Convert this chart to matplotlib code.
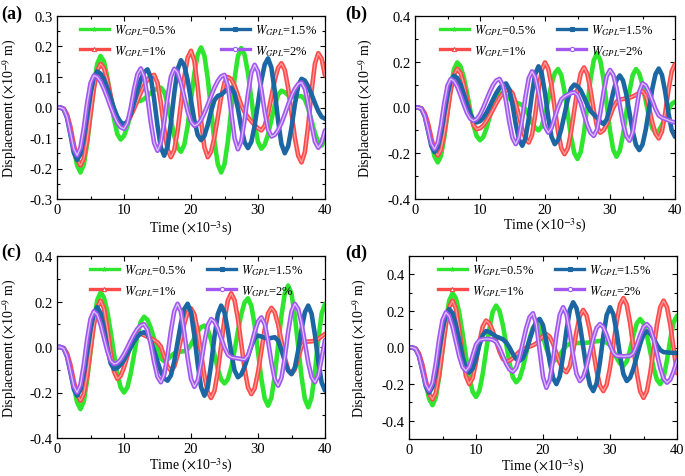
import numpy as np
import matplotlib
matplotlib.use("Agg")
import matplotlib.pyplot as plt
from matplotlib.lines import Line2D
from matplotlib.ticker import MultipleLocator, FormatStrFormatter

plt.rcParams['font.family'] = ['Liberation Serif', 'DejaVu Serif']
plt.rcParams['mathtext.fontset'] = 'stix'
plt.rcParams['axes.unicode_minus'] = False

# sampling instants (x10^-3 s)
time_ms = np.arange(0, 40.5, 0.5)

labels = [r'$W_{GPL}$=0.5%', r'$W_{GPL}$=1%', r'$W_{GPL}$=1.5%', r'$W_{GPL}$=2%']
colors = ['#2ee62e', '#ff4a4a', '#1c67a3', '#a257f0']
inner = [None, '#ff9c9c', None, '#dcc4fb']
markers = ['*', '^', 's', 'o']

# ---- (a) ----
a_green = [0, 0, -0.004, -0.026, -0.070, -0.134, -0.190, -0.213, -0.187, -0.118,
           -0.022, 0.073, 0.143, 0.169, 0.151, 0.100, 0.032, -0.037, -0.087, -0.105,
           -0.093, -0.062, -0.023, 0.008, 0.020, 0.022, 0.028, 0.038, 0.048, 0.057,
           0.063, 0.065, 0.051, 0.013, -0.040, -0.093, -0.131, -0.145, -0.122, -0.060,
           0.026, 0.112, 0.174, 0.197, 0.170, 0.095, -0.008, -0.111, -0.186, -0.213,
           -0.186, -0.111, -0.009, 0.093, 0.168, 0.195, 0.173, 0.113, 0.030, -0.053,
           -0.113, -0.135, -0.122, -0.088, -0.040, 0.008, 0.042, 0.055, 0.050, 0.040,
           0.035, 0.036, 0.037, 0.037, 0.026, -0.004, -0.044, -0.085, -0.114, -0.125,
           -0.105]
a_red = [0, 0, -0.004, -0.023, -0.063, -0.120, -0.169, -0.190, -0.168, -0.107,
         -0.024, 0.060, 0.121, 0.143, 0.129, 0.092, 0.040, -0.012, -0.049, -0.063,
         -0.059, -0.047, -0.028, -0.004, 0.022, 0.048, 0.072, 0.091, 0.103, 0.107,
         0.081, 0.014, -0.070, -0.137, -0.163, -0.140, -0.076, 0.012, 0.099, 0.163,
         0.186, 0.153, 0.066, -0.043, -0.130, -0.163, -0.145, -0.097, -0.032, 0.034,
         0.082, 0.100, 0.093, 0.072, 0.040, 0.008, -0.015, -0.032, -0.045, -0.058,
         -0.068, -0.075, -0.060, -0.020, 0.035, 0.090, 0.130, 0.145, 0.123, 0.064,
         -0.018, -0.099, -0.158, -0.180, -0.146, -0.057, 0.055, 0.144, 0.178, 0.160,
         0.105]
a_blue = [0, 0, -0.006, -0.034, -0.089, -0.148, -0.172, -0.153, -0.100, -0.027,
          0.046, 0.099, 0.118, 0.111, 0.093, 0.065, 0.032, -0.002, -0.030, -0.048,
          -0.055, -0.046, -0.021, 0.015, 0.055, 0.091, 0.116, 0.125, 0.098, 0.027,
          -0.060, -0.131, -0.158, -0.128, -0.050, 0.047, 0.125, 0.155, 0.138, 0.090,
          0.024, -0.042, -0.090, -0.107, -0.093, -0.057, -0.012, 0.024, 0.038, 0.042,
          0.052, 0.061, 0.065, 0.046, -0.003, -0.065, -0.114, -0.133, -0.113, -0.060,
          0.014, 0.088, 0.141, 0.161, 0.131, 0.054, -0.043, -0.120, -0.150, -0.127,
          -0.066, 0.010, 0.071, 0.094, 0.088, 0.069, 0.043, 0.014, -0.012, -0.031,
          -0.037]
a_purple = [0, 0, -0.005, -0.031, -0.082, -0.135, -0.157, -0.132, -0.067, 0.015,
            0.080, 0.105, 0.100, 0.085, 0.061, 0.033, 0.002, -0.026, -0.050, -0.065,
            -0.070, -0.051, -0.002, 0.060, 0.109, 0.128, 0.102, 0.035, -0.049, -0.116,
            -0.142, -0.116, -0.049, 0.034, 0.101, 0.127, 0.115, 0.080, 0.034, -0.013,
            -0.047, -0.060, -0.055, -0.041, -0.018, 0.009, 0.038, 0.065, 0.087, 0.102,
            0.107, 0.071, -0.015, -0.101, -0.137, -0.111, -0.041, 0.044, 0.114, 0.140,
            0.118, 0.059, -0.014, -0.073, -0.095, -0.090, -0.074, -0.051, -0.022, 0.009,
            0.038, 0.061, 0.077, 0.082, 0.062, 0.008, -0.058, -0.112, -0.132, -0.115,
            -0.075]

# ---- (b) ----
b_green = [0, 0, -0.005, -0.029, -0.079, -0.151, -0.214, -0.240, -0.211, -0.131,
           -0.022, 0.088, 0.168, 0.197, 0.180, 0.133, 0.065, -0.011, -0.079, -0.126,
           -0.143, -0.129, -0.091, -0.039, 0.013, 0.051, 0.065, 0.062, 0.052, 0.040,
           0.030, 0.022, 0.017, 0.010, -0.008, -0.035, -0.066, -0.090, -0.100, -0.082,
           -0.033, 0.034, 0.101, 0.150, 0.168, 0.142, 0.070, -0.029, -0.127, -0.199,
           -0.225, -0.194, -0.110, 0.006, 0.122, 0.206, 0.237, 0.207, 0.124, 0.011,
           -0.102, -0.185, -0.215, -0.189, -0.119, -0.024, 0.072, 0.142, 0.168, 0.149,
           0.099, 0.029, -0.041, -0.091, -0.110, -0.101, -0.076, -0.043, -0.009, 0.016,
           0.025]
b_red = [0, 0, -0.004, -0.025, -0.069, -0.132, -0.187, -0.210, -0.185, -0.115,
         -0.021, 0.074, 0.144, 0.169, 0.151, 0.103, 0.037, -0.029, -0.077, -0.095,
         -0.091, -0.079, -0.059, -0.035, -0.009, 0.018, 0.042, 0.062, 0.074, 0.078,
         0.063, 0.020, -0.038, -0.095, -0.138, -0.153, -0.120, -0.032, 0.076, 0.164,
         0.197, 0.170, 0.097, -0.004, -0.104, -0.177, -0.204, -0.179, -0.109, -0.014,
         0.080, 0.150, 0.175, 0.148, 0.077, -0.012, -0.083, -0.110, -0.100, -0.074,
         -0.038, -0.001, 0.025, 0.035, 0.037, 0.040, 0.043, 0.048, 0.055, 0.065,
         0.072, 0.052, 0.001, -0.064, -0.115, -0.135, -0.104, -0.023, 0.078, 0.159,
         0.190]
b_blue = [0, 0, -0.007, -0.039, -0.101, -0.168, -0.195, -0.173, -0.112, -0.028,
          0.055, 0.117, 0.139, 0.129, 0.101, 0.060, 0.014, -0.027, -0.055, -0.065,
          -0.060, -0.045, -0.023, 0.005, 0.035, 0.063, 0.085, 0.100, 0.105, 0.079,
          0.011, -0.073, -0.141, -0.167, -0.134, -0.047, 0.060, 0.147, 0.180, 0.148,
          0.063, -0.043, -0.128, -0.160, -0.143, -0.095, -0.030, 0.035, 0.083, 0.100,
          0.093, 0.075, 0.045, 0.012, -0.015, -0.030, -0.045, -0.062, -0.072, -0.052,
          0.001, 0.067, 0.120, 0.140, 0.118, 0.059, -0.023, -0.105, -0.164, -0.186,
          -0.162, -0.097, -0.008, 0.081, 0.146, 0.170, 0.142, 0.067, -0.025, -0.100,
          -0.128]
b_purple = [0, 0, -0.006, -0.036, -0.095, -0.157, -0.182, -0.153, -0.076, 0.019,
            0.096, 0.125, 0.116, 0.091, 0.054, 0.013, -0.024, -0.049, -0.058, -0.051,
            -0.031, -0.001, 0.034, 0.068, 0.098, 0.118, 0.125, 0.098, 0.027, -0.062,
            -0.133, -0.160, -0.130, -0.050, 0.048, 0.128, 0.158, 0.132, 0.066, -0.018,
            -0.085, -0.110, -0.090, -0.045, 0.000, 0.035, 0.048, 0.056, 0.063, 0.066,
            0.053, 0.019, -0.029, -0.077, -0.111, -0.124, -0.097, -0.025, 0.065, 0.137,
            0.164, 0.143, 0.087, 0.010, -0.068, -0.124, -0.145, -0.108, -0.020, 0.069,
            0.106, 0.096, 0.068, 0.031, -0.007, -0.035, -0.045, -0.050, -0.056, -0.062,
            -0.065]

# ---- (c) ----
c_green = [0, 0, -0.005, -0.033, -0.090, -0.172, -0.243, -0.273, -0.239, -0.145,
           -0.017, 0.112, 0.206, 0.240, 0.218, 0.157, 0.069, -0.029, -0.117, -0.178,
           -0.200, -0.178, -0.117, -0.034, 0.050, 0.111, 0.133, 0.120, 0.084, 0.035,
           -0.014, -0.050, -0.063, -0.055, -0.040, -0.028, -0.022, -0.020, -0.018, -0.010,
           0.010, 0.040, 0.068, 0.087, 0.094, 0.077, 0.031, -0.033, -0.097, -0.143,
           -0.160, -0.142, -0.090, -0.015, 0.069, 0.144, 0.196, 0.214, 0.182, 0.096,
           -0.022, -0.140, -0.226, -0.258, -0.223, -0.126, 0.006, 0.138, 0.235, 0.270,
           0.234, 0.136, 0.003, -0.131, -0.229, -0.265, -0.222, -0.108, 0.033, 0.147,
           0.190]
c_red = [0, 0, -0.005, -0.028, -0.078, -0.149, -0.210, -0.236, -0.207, -0.126,
         -0.016, 0.094, 0.175, 0.204, 0.171, 0.085, -0.021, -0.107, -0.140, -0.127,
         -0.090, -0.040, 0.010, 0.047, 0.060, 0.058, 0.052, 0.045, 0.038, 0.030,
         0.020, 0.002, -0.042, -0.086, -0.104, -0.086, -0.036, 0.033, 0.102, 0.152,
         0.170, 0.144, 0.072, -0.027, -0.126, -0.198, -0.224, -0.193, -0.109, 0.006,
         0.121, 0.205, 0.236, 0.206, 0.125, 0.015, -0.096, -0.177, -0.207, -0.182,
         -0.112, -0.018, 0.077, 0.147, 0.172, 0.153, 0.099, 0.027, -0.046, -0.100,
         -0.119, -0.098, -0.048, 0.001, 0.022, 0.024, 0.025, 0.028, 0.035, 0.047,
         0.057]
c_blue = [0, 0, -0.007, -0.043, -0.111, -0.184, -0.214, -0.188, -0.117, -0.020,
          0.078, 0.149, 0.175, 0.149, 0.081, -0.003, -0.071, -0.097, -0.092, -0.078,
          -0.057, -0.030, -0.002, 0.025, 0.046, 0.060, 0.065, 0.055, 0.025, -0.018,
          -0.065, -0.108, -0.138, -0.148, -0.125, -0.064, 0.021, 0.106, 0.167, 0.190,
          0.152, 0.051, -0.075, -0.176, -0.214, -0.176, -0.077, 0.045, 0.144, 0.182,
          0.152, 0.073, -0.024, -0.103, -0.133, -0.121, -0.087, -0.042, 0.004, 0.038,
          0.050, 0.046, 0.040, 0.037, 0.040, 0.043, 0.028, -0.013, -0.063, -0.104,
          -0.119, -0.090, -0.015, 0.078, 0.153, 0.182, 0.146, 0.053, -0.063, -0.156,
          -0.192]
c_purple = [0, 0, -0.007, -0.040, -0.104, -0.172, -0.200, -0.166, -0.077, 0.034,
            0.123, 0.157, 0.142, 0.099, 0.041, -0.017, -0.060, -0.075, -0.070, -0.055,
            -0.031, -0.003, 0.028, 0.056, 0.080, 0.095, 0.100, 0.076, 0.012, -0.067,
            -0.131, -0.155, -0.122, -0.036, 0.071, 0.157, 0.190, 0.155, 0.064, -0.049,
            -0.140, -0.175, -0.147, -0.072, 0.020, 0.095, 0.123, 0.112, 0.081, 0.039,
            -0.003, -0.034, -0.045, -0.048, -0.050, -0.053, -0.055, -0.037, 0.009, 0.066,
            0.112, 0.130, 0.101, 0.027, -0.067, -0.142, -0.170, -0.136, -0.046, 0.066,
            0.156, 0.190, 0.167, 0.104, 0.018, -0.069, -0.132, -0.155, -0.125, -0.050,
            0.030]

# ---- (d) ----
d_green = [0, 0, -0.006, -0.038, -0.104, -0.198, -0.280, -0.315, -0.274, -0.162,
           -0.009, 0.144, 0.256, 0.297, 0.269, 0.190, 0.076, -0.049, -0.163, -0.242,
           -0.270, -0.237, -0.145, -0.021, 0.104, 0.196, 0.229, 0.201, 0.124, 0.020,
           -0.085, -0.162, -0.190, -0.169, -0.110, -0.030, 0.050, 0.109, 0.130, 0.111,
           0.059, -0.004, -0.056, -0.075, -0.066, -0.042, -0.013, 0.011, 0.020, 0.022,
           0.024, 0.025, 0.025, 0.026, 0.028, 0.031, 0.034, 0.036, 0.035, 0.026,
           0.014, -0.017, -0.057, -0.088, -0.100, -0.076, -0.012, 0.068, 0.132, 0.156,
           0.132, 0.067, -0.022, -0.111, -0.176, -0.200, -0.165, -0.071, 0.045, 0.139,
           0.174]
d_red = [0, 0, -0.006, -0.034, -0.094, -0.179, -0.253, -0.284, -0.248, -0.149,
         -0.014, 0.121, 0.220, 0.256, 0.213, 0.099, -0.043, -0.157, -0.200, -0.167,
         -0.080, 0.027, 0.114, 0.147, 0.132, 0.091, 0.035, -0.021, -0.062, -0.077,
         -0.072, -0.058, -0.040, -0.022, -0.010, -0.002, 0.005, 0.012, 0.022, 0.042,
         0.063, 0.073, 0.059, 0.021, -0.031, -0.083, -0.121, -0.135, -0.103, -0.018,
         0.088, 0.173, 0.205, 0.175, 0.094, -0.017, -0.127, -0.208, -0.238, -0.204,
         -0.111, 0.016, 0.143, 0.236, 0.270, 0.234, 0.134, -0.003, -0.139, -0.239,
         -0.275, -0.239, -0.142, -0.010, 0.123, 0.220, 0.256, 0.221, 0.125, -0.007,
         -0.140]
d_blue = [0, 0, -0.009, -0.049, -0.128, -0.212, -0.247, -0.216, -0.133, -0.018,
          0.096, 0.179, 0.210, 0.187, 0.123, 0.037, -0.050, -0.114, -0.137, -0.115,
          -0.059, 0.012, 0.068, 0.090, 0.085, 0.072, 0.060, 0.053, 0.045, 0.028,
          0.000, -0.035, -0.063, -0.073, -0.058, -0.016, 0.042, 0.099, 0.141, 0.156,
          0.122, 0.033, -0.077, -0.166, -0.200, -0.158, -0.046, 0.093, 0.205, 0.247,
          0.215, 0.126, 0.005, -0.117, -0.206, -0.238, -0.195, -0.080, 0.062, 0.177,
          0.220, 0.182, 0.081, -0.044, -0.145, -0.183, -0.165, -0.115, -0.048, 0.020,
          0.070, 0.088, 0.077, 0.049, 0.014, -0.014, -0.025, -0.027, -0.028, -0.030,
          -0.030]
d_purple = [0, 0, -0.008, -0.047, -0.122, -0.202, -0.235, -0.194, -0.088, 0.045,
            0.151, 0.192, 0.171, 0.112, 0.032, -0.048, -0.107, -0.128, -0.104, -0.044,
            0.016, 0.040, 0.045, 0.047, 0.046, 0.042, 0.030, -0.002, -0.045, -0.089,
            -0.120, -0.132, -0.111, -0.052, 0.028, 0.107, 0.166, 0.187, 0.128, -0.017,
            -0.161, -0.220, -0.178, -0.068, 0.068, 0.178, 0.220, 0.182, 0.081, -0.044,
            -0.145, -0.183, -0.162, -0.105, -0.028, 0.050, 0.107, 0.128, 0.112, 0.068,
            0.014, -0.030, -0.046, -0.047, -0.048, -0.047, -0.046, -0.030, 0.014, 0.068,
            0.112, 0.128, 0.107, 0.048, -0.032, -0.112, -0.171, -0.192, -0.175, -0.130,
            -0.070]

W, H = 685, 477


def px_axes(left, top, right, bottom):
    return [left / W, 1 - bottom / H, (right - left) / W, (bottom - top) / H]


def draw_panel(fig, box, series, ylim, ymaj, ymin, tag, tag_xy,
               leg_x, colsp, ylab_x, xlab_y):
    ax = fig.add_axes(px_axes(*box))
    for y, c, ic in zip(series, colors, inner):
        ax.plot(time_ms, y, color=c, lw=3.3, solid_joinstyle='round',
                solid_capstyle='round')
        if ic is not None:
            ax.plot(time_ms, y, color=ic, lw=0.9, solid_joinstyle='round')
    ax.set_xlim(0, 40)
    ax.set_ylim(*ylim)
    ax.xaxis.set_major_locator(MultipleLocator(10))
    ax.xaxis.set_minor_locator(MultipleLocator(5))
    ax.yaxis.set_major_locator(MultipleLocator(ymaj))
    ax.yaxis.set_minor_locator(MultipleLocator(ymin))
    ax.yaxis.set_major_formatter(FormatStrFormatter('%.1f'))
    ax.tick_params(which='both', direction='in', top=True, right=True,
                   labelsize=10.5, width=0.8)
    ax.tick_params(which='major', length=3.5, pad=3)
    ax.tick_params(which='minor', length=2)
    for s in ax.spines.values():
        s.set_linewidth(0.9)
    ax.set_xlabel(r'Time ($\times$10$^{-3}$s)', fontsize=10)
    ax.set_ylabel(r'Displacement ($\times$10$^{-9}$ m)', fontsize=10)
    ax.yaxis.set_label_coords(ylab_x, 0.5)
    ax.xaxis.set_label_coords(0.5, xlab_y)

    handles = [Line2D([], [], color=c, lw=2.4, marker=m, ms=3,
                      markerfacecolor='white' if m in ('o', '^') else c,
                      markeredgecolor=c, markeredgewidth=0.8)
               for c, m in zip(colors, markers)]
    ax.legend(handles, labels, ncol=2, loc='upper left',
              bbox_to_anchor=(leg_x, 0.965), frameon=False, fontsize=9,
              handlelength=2.3, handletextpad=0.4, columnspacing=colsp,
              labelspacing=0.45, borderpad=0, borderaxespad=0)
    fig.text(tag_xy[0] / W, 1 - tag_xy[1] / H, tag, fontsize=13,
             fontweight='bold', ha='left', va='center')
    return ax


fig = plt.figure(figsize=(W / 100, H / 100), dpi=100)

draw_panel(fig, (57, 17, 325, 200), [a_green, a_red, a_blue, a_purple],
           (-0.3, 0.3), 0.1, 0.05, '(a)', (1, 14), 0.086, 3.6, -0.142, -0.11)
draw_panel(fig, (415, 17, 675, 200), [b_green, b_red, b_blue, b_purple],
           (-0.4, 0.4), 0.2, 0.1, '(b)', (345, 14), 0.096, 1.7, -0.154, -0.092)
draw_panel(fig, (57, 257, 325, 439), [c_green, c_red, c_blue, c_purple],
           (-0.4, 0.4), 0.2, 0.1, '(c)', (1, 252), 0.123, 1.7, -0.142, -0.1)
draw_panel(fig, (409, 257, 677, 440), [d_green, d_red, d_blue, d_purple],
           (-0.5, 0.5), 0.2, 0.1, '(d)', (345, 253), 0.108, 1.7, -0.149, -0.1)

fig.savefig('out.png', dpi=100)
